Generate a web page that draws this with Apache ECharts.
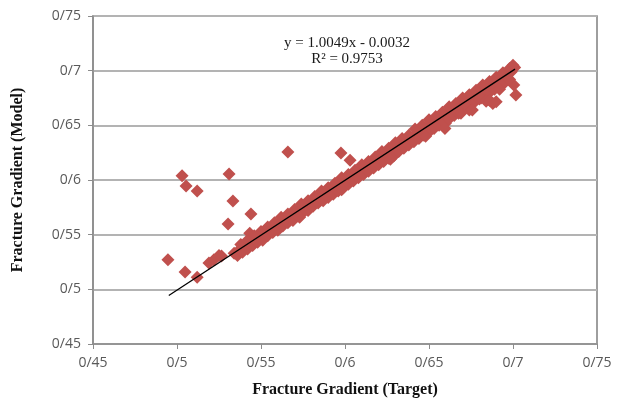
<!DOCTYPE html>
<html>
<head>
<meta charset="utf-8">
<script src="https://cdn.jsdelivr.net/npm/echarts@6/dist/echarts.min.js"></script>
<style>html,body{margin:0;padding:0;background:#fff}#c{width:620px;height:398px}</style>
</head>
<body>
<div id="c"></div>
<script>
// Axis ticks
var axisMin = 0.45, axisMax = 0.75, axisStep = 0.05;
var xTitle = 'Fracture Gradient (Target)';
var yTitle = 'Fracture Gradient (Model)';
var eqText = 'y = 1.0049x - 0.0032';
var r2Text = 'R\u00b2 = 0.9753';
// Trendline coefficients and extent
var slope = 1.0049, intercept = -0.0032;
var trendX = [0.4951, 0.7012];

// Outlying points
var outliers = [
  [0.4946,0.527],[0.503,0.604],[0.5054,0.5945],[0.512,0.590],[0.5048,0.5159],[0.512,0.511],
  [0.531,0.6055],[0.5333,0.5808],[0.5304,0.5598],[0.544,0.569],[0.5433,0.5513],
  [0.566,0.6256],[0.5976,0.6247],[0.603,0.618],[0.6598,0.6519],[0.7005,0.6869],[0.7017,0.6778],
  [0.519,0.524],[0.522,0.527],[0.525,0.531],[0.5265,0.5305]
];
// Main band, on the line
var bandMid = [
  [0.534,0.533],[0.537,0.536],[0.540,0.539],[0.543,0.542],[0.546,0.546],[0.549,0.548],[0.552,0.551],
  [0.555,0.554],[0.558,0.558],[0.561,0.560],[0.564,0.563],[0.567,0.566],[0.570,0.570],[0.573,0.572],
  [0.576,0.575],[0.579,0.578],[0.582,0.581],[0.585,0.585],[0.588,0.587],[0.591,0.590],[0.594,0.593],
  [0.597,0.597],[0.600,0.599],[0.603,0.602],[0.606,0.605],[0.609,0.609],[0.612,0.611],[0.615,0.614],
  [0.618,0.618],[0.621,0.620],[0.624,0.623],[0.627,0.627],[0.630,0.629],[0.633,0.632],[0.636,0.636],
  [0.639,0.638],[0.642,0.641],[0.645,0.645],[0.648,0.647],[0.651,0.650],[0.654,0.654],[0.657,0.656],
  [0.660,0.659],[0.663,0.663],[0.666,0.665],[0.669,0.668],[0.672,0.672],[0.675,0.674],[0.678,0.677],
  [0.681,0.681],[0.684,0.683],[0.687,0.686],[0.690,0.690],[0.693,0.692],[0.696,0.695],[0.699,0.699],
  [0.701,0.703]
];
// Band, lower edge
var bandLow = [
  [0.536,0.531],[0.539,0.534],[0.542,0.537],[0.545,0.540],[0.548,0.543],[0.551,0.545],[0.554,0.549],
  [0.557,0.552],[0.560,0.554],[0.563,0.558],[0.566,0.561],[0.569,0.563],[0.572,0.567],[0.575,0.570],
  [0.578,0.572],[0.581,0.576],[0.584,0.579],[0.587,0.581],[0.590,0.584],[0.593,0.587],[0.596,0.590],
  [0.599,0.593],[0.602,0.596],[0.605,0.599],[0.608,0.602],[0.611,0.605],[0.614,0.608],[0.617,0.611],
  [0.620,0.614],[0.623,0.617],[0.626,0.620],[0.629,0.622],[0.632,0.626],[0.635,0.629],[0.638,0.632],
  [0.641,0.635],[0.644,0.638],[0.647,0.641],[0.650,0.644],[0.653,0.647],[0.656,0.650],[0.659,0.653],
  [0.662,0.656],[0.665,0.659],[0.668,0.662],[0.671,0.665],[0.674,0.668],[0.677,0.671],[0.680,0.674],
  [0.683,0.677],[0.686,0.680],[0.689,0.683],[0.692,0.686],[0.695,0.689],[0.698,0.692],
  [0.6595,0.647],[0.6676,0.661],[0.669,0.661],[0.674,0.664],[0.6758,0.664],[0.671,0.670],
  [0.681,0.675],[0.684,0.672],[0.688,0.670],[0.686,0.673],[0.690,0.6716],[0.692,0.683],
  [0.573,0.566],[0.598,0.591],[0.627,0.619],[0.648,0.640]
];
// Band, upper edge
var bandHigh = [
  [0.538,0.541],[0.542,0.545],[0.546,0.549],[0.550,0.553],[0.554,0.557],[0.558,0.561],[0.562,0.566],
  [0.566,0.569],[0.570,0.573],[0.574,0.578],[0.578,0.581],[0.582,0.585],[0.586,0.590],[0.590,0.593],
  [0.594,0.597],[0.598,0.602],[0.602,0.605],[0.606,0.609],[0.610,0.614],[0.614,0.617],[0.618,0.621],
  [0.622,0.626],[0.626,0.629],[0.630,0.634],[0.634,0.638],[0.638,0.641],[0.6417,0.6466],[0.646,0.650],
  [0.650,0.655],[0.654,0.658],[0.658,0.662],[0.662,0.667],[0.666,0.670],[0.670,0.675],[0.674,0.678],
  [0.678,0.682],[0.682,0.687],[0.686,0.690],[0.690,0.694],[0.694,0.698],[0.698,0.702],[0.700,0.705]
];

var allPoints = outliers.concat(bandMid, bandLow, bandHigh);
var trendData = trendX.map(function (x) { return [x, slope * x + intercept]; });

function fmt(v) {
  var r = Math.round(v * 100) / 100;
  return String(r).replace('.', '/');
}

var chart = echarts.init(document.getElementById('c'), null, {renderer: 'canvas'});
var labelStyle = {color: '#595959', fontFamily: 'Open Sans', fontSize: 14};
var titleStyle = {fontFamily: 'Liberation Serif', fontWeight: 'bold', fontSize: 16, color: '#111'};
chart.setOption({
  animation: false,
  backgroundColor: '#fff',
  grid: {left: 93, right: 23, top: 16, bottom: 54, show: true, borderColor: '#7f7f7f', borderWidth: 1.5,
         containLabel: false, outerBoundsMode: 'none'},
  xAxis: {
    type: 'value', min: axisMin, max: axisMax, interval: axisStep,
    name: xTitle, nameLocation: 'middle', nameGap: 38,
    nameTextStyle: titleStyle,
    axisLine: {show: true, lineStyle: {color: '#8c8c8c', width: 1.5}},
    axisTick: {show: true, length: 5, lineStyle: {color: '#8c8c8c'}},
    axisLabel: Object.assign({margin: 12, formatter: fmt}, labelStyle),
    splitLine: {show: false}
  },
  yAxis: {
    type: 'value', min: axisMin, max: axisMax, interval: axisStep,
    name: yTitle, nameLocation: 'middle', nameGap: 67,
    nameTextStyle: titleStyle,
    axisLine: {show: true, lineStyle: {color: '#8c8c8c', width: 1.5}},
    axisTick: {show: true, length: 5, lineStyle: {color: '#8c8c8c'}},
    axisLabel: Object.assign({margin: 12, formatter: fmt}, labelStyle),
    splitLine: {show: true, lineStyle: {color: '#b3b3b3', width: 2}}
  },
  graphic: [
    {id: 'eq', type: 'text', x: 347, y: 43, z: 10,
     style: {text: eqText, font: '15px "Liberation Serif"', fill: '#1a1a1a', align: 'center', verticalAlign: 'middle'}},
    {id: 'r2', type: 'text', x: 347, y: 59, z: 10,
     style: {text: r2Text, font: '15px "Liberation Serif"', fill: '#1a1a1a', align: 'center', verticalAlign: 'middle'}}
  ],
  series: [
    {type: 'scatter', data: allPoints, symbol: 'diamond', symbolSize: 13,
     itemStyle: {color: '#c0504d', opacity: 1}, z: 2, silent: true},
    {type: 'line', data: trendData, showSymbol: false, symbol: 'none',
     lineStyle: {color: '#000', width: 1.3}, z: 3, silent: true}
  ]
});
</script>
</body>
</html>
